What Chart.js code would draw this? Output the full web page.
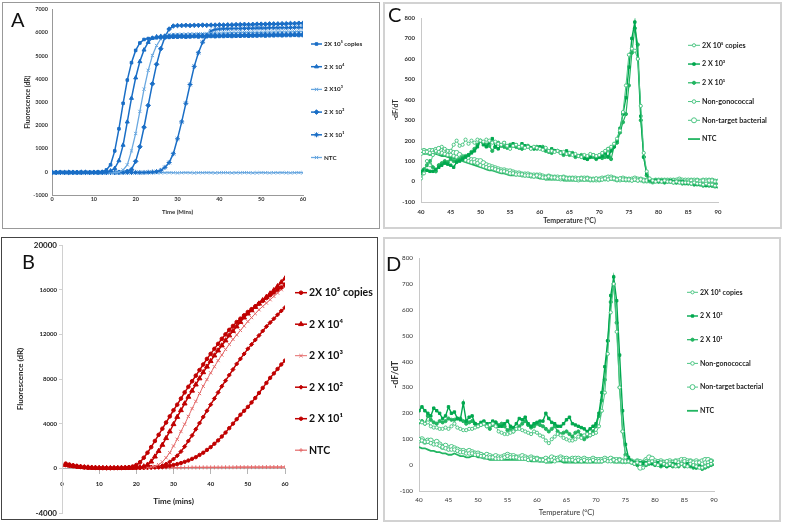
<!DOCTYPE html>
<html>
<head>
<meta charset="utf-8">
<script src="https://cdn.jsdelivr.net/npm/chart.js"></script>
<style>
  body { margin: 0; background: #fff; width: 787px; height: 527px; position: relative; overflow: hidden; font-family: Lato, "Open Sans", sans-serif; }
  canvas { position: absolute; }
  .box { position: absolute; box-sizing: border-box; pointer-events: none; }
  .lab { position: absolute; font-size: 20px; line-height: 20px; color: #111; }
</style>
</head>
<body>

<canvas id="chartA" width="378" height="227" style="left:2px;top:2px"></canvas>
<canvas id="chartC" width="399" height="227" style="left:383px;top:2px"></canvas>
<canvas id="chartB" width="377" height="283" style="left:1px;top:237px"></canvas>
<canvas id="chartD" width="398" height="285" style="left:383px;top:237px"></canvas>

<div class="box" style="left:2px;top:2px;width:378px;height:227px;border:1px solid #999"></div>
<div class="box" style="left:383px;top:2px;width:399px;height:227px;border:2px solid #d2d2d2"></div>
<div class="box" style="left:1px;top:237px;width:377px;height:283px;border:1px solid #444"></div>
<div class="box" style="left:383px;top:237px;width:398px;height:285px;border:2px solid #d2d2d2"></div>

<div class="lab" style="left:11px;top:9px">A</div>
<div class="lab" style="left:22px;top:251px">B</div>
<div class="lab" style="left:388px;top:4px">C</div>
<div class="lab" style="left:386px;top:253px">D</div>

<script>
// ---- panel A : amplification, blue ----
const timeA = [0,1,2,3,4,5,6,7,8,9,10,11,12,13,14,15,16,17,18,19,20,21,22,23,24,25,26,27,28,29,30,
  31,32,33,34,35,36,37,38,39,40,41,42,43,44,45,46,47,48,49,50,51,52,53,54,55,56,57,58,59,60];
const a2e5 = [-30,-30,-25,-30,-30,-25,-30,-30,-25,-30, -25,-20,-10,80,300,900,1850,2950,3950,4700,
  5230,5550,5700,5740,5760,5770,5780,5780,5790,5800, 5800,5810,5800,5810,5820,5810,5820,5820,5830,5820,
  5830,5830,5840,5830,5840,5840,5850,5840,5850,5850, 5860,5850,5860,5860,5870,5860,5870,5870,5880,5870, 5870];
const a2e4 = [-20,-25,-20,-25,-20,-20,-25,-20,-20,-25, -20,-20,-15,-10,40,150,480,1150,2150,3170,
  4050,4750,5250,5580,5760,5820,5840,5850,5850,5860, 5860,5870,5860,5870,5870,5880,5870,5880,5880,5890,
  5880,5890,5890,5900,5890,5900,5900,5910,5900,5910, 5910,5920,5910,5920,5920,5930,5920,5930,5930,5940, 5940];
const a2e3 = [-40,-40,-35,-40,-40,-35,-40,-40,-35,-40, -35,-40,-35,-40,-35,-30,-20,80,300,900,
  1650,2600,3560,4370,5010,5440,5720,5860,5900,5920, 5920,5930,5930,5940,5940,5950,5950,5960,5960,5970,
  5970,5980,5980,5990,5990,6000,6000,6000,6010,6010, 6010,6020,6020,6020,6030,6030,6030,6030,6040,6040, 6040];
const a2e2 = [-25,-30,-25,-30,-25,-30,-25,-30,-25,-30, -25,-30,-25,-30,-25,-30,-20,-10,20,100,
  450,1080,1920,2860,3790,4630,5300,5800,6150,6280, 6300,6300,6310,6300,6310,6310,6320,6310,6320,6320,
  6330,6320,6330,6330,6340,6340,6350,6340,6350,6360, 6360,6360,6370,6370,6370,6380,6380,6390,6390,6400, 6400];
const a2e1 = [-30,-30,-30,-25,-30,-30,-30,-25,-30,-30, -30,-25,-30,-30,-25,-30,-30,-25,-30,-30,
  -25,-30,-30,-20,-10,10,60,190,400,780, 1420,2150,2950,3760,4540,5130,5580,5870,6060,6130,
  6150,6160,6160,6170,6170,6170,6180,6180,6180,6190, 6190,6190,6200,6200,6200,6210,6210,6210,6220,6220, 6220];
const aNTC = [-40,-35,-40,-45,-40,-35,-40,-45,-40,-40, -35,-40,-45,-40,-35,-40,-45,-40,-40,-35,
  -40,-45,-40,-35,-40,-45,-40,-40,-35,-40, -45,-40,-35,-40,-45,-40,-40,-35,-40,-45,
  -40,-35,-40,-45,-40,-40,-35,-40,-45,-40, -35,-40,-45,-40,-40,-35,-40,-45,-40,-35, -40];

// ---- panel B : amplification, red ----
const timeB = [1,2,3,4,5,6,7,8,9,10,11,12,13,14,15,16,17,18,19,20,21,22,23,24,25,26,27,28,29,30,
  31,32,33,34,35,36,37,38,39,40,41,42,43,44,45,46,47,48,49,50,51,52,53,54,55,56,57,58,59,60];
const b2e5 = [420,330,260,200,150,110,80,60,45,35, 30,25,25,30,35,45,60,90,160,300,
  550,950,1400,1900,2450,3000,3550,4100,4650,5200, 5700,6250,6800,7300,7800,8300,8800,9300,9800,10250,
  10700,11150,11600,12000,12400,12750,13100,13400,13700,14000, 14250,14500,14750,15000,15250,15500,15750,16000,16200,16450];
const b2e4 = [300,250,200,160,120,90,70,50,40,30, 25,20,20,25,25,30,35,40,50,70,
  100,170,320,600,1050,1550,2100,2700,3300,3950, 4600,5200,5800,6400,6950,7500,8050,8600,9100,9600,
  10100,10550,11000,11450,11900,12300,12700,13100,13500,13850, 14150,14450,14750,15050,15350,15650,15950,16300,16650,17000];
const b2e3 = [250,200,170,140,110,90,70,55,45,35, 30,25,25,25,30,30,35,40,45,55,
  65,75,90,110,180,330,580,950,1400,2000, 2600,3300,3950,4650,5350,6000,6700,7350,7950,8550,
  9100,9650,10150,10650,11100,11550,11950,12350,12750,13150, 13500,13850,14200,14500,14800,15100,15400,15700,16000,16250];
const b2e2 = [350,280,220,170,130,100,75,55,45,35, 30,25,25,30,30,35,40,45,50,60,
  70,80,90,100,120,160,240,380,580,830, 1130,1500,1950,2450,2950,3500,4050,4600,5150,5700,
  6250,6800,7350,7850,8350,8850,9350,9800,10250,10700, 11100,11500,11900,12300,12700,13050,13400,13750,14100,14400];
const b2e1 = [300,240,190,150,120,90,70,55,45,35, 30,25,25,25,30,30,35,40,45,50,
  55,60,70,80,90,100,130,170,230,300, 380,470,580,700,850,1000,1200,1400,1650,1900,
  2200,2500,2850,3200,3600,4000,4400,4800,5150,5500, 5900,6300,6750,7200,7650,8100,8500,8900,9300,9650];
const bNTC = [260,210,170,135,105,85,70,55,45,40, 35,35,30,30,35,35,40,40,45,45,
  50,50,55,55,60,60,60,65,65,70, 70,70,75,75,80,80,80,85,85,85,
  90,90,90,95,95,95,100,100,100,100, 105,105,105,110,110,110,115,115,115,120];

// ---- panels C and D : melt curves, green ----
const temps = [40,40.5,41,41.5,42,42.5,43,43.5,44,44.5, 45,45.5,46,46.5,47,47.5,48,48.5,49,49.5,
  50,50.5,51,51.5,52,52.5,53,53.5,54,54.5, 55,55.5,56,56.5,57,57.5,58,58.5,59,59.5,
  60,60.5,61,61.5,62,62.5,63,63.5,64,64.5, 65,65.5,66,66.5,67,67.5,68,68.5,69,69.5,
  70,70.5,71,71.5,72,72.5,73,73.5,74,74.5, 75,75.5,76,76.5,77,77.5,78,78.5,79,79.5,
  80,80.5,81,81.5,82,82.5,83,83.5,84,84.5, 85,85.5,86,86.5,87,87.5,88,88.5,89,89.5, 90];

const c2e5 = [15,40,100,80,130,150,145,170,160,150, 150,180,200,175,180,205,185,200,190,205,
  200,195,205,200,190,195,185,180,190,175, 160,175,180,170,175,165,170,160,170,165,
  160,155,165,150,150,145,150,140,145,135, 140,130,135,125,120,130,125,135,130,125,
  130,140,150,160,170,185,210,250,340,470, 620,650,640,600,370,140,50,15,5,0,
  5,0,5,0,0,-5,0,-5,-5,-5, -5,-10,-5,-10,-10,-15,-10,-15,-15,-20, -20];
const c2e3 = [50,55,55,50,50,60,70,80,90,85, 80,70,95,100,110,120,130,140,150,170,
  200,180,170,190,210,170,160,180,190,175, 170,185,180,170,185,175,170,165,165,160,
  170,160,160,150,160,150,150,145,140,150, 140,135,130,125,120,115,110,120,130,115,
  120,125,140,120,150,170,200,260,330,410, 560,700,780,600,320,120,40,10,5,5,
  0,5,0,0,5,0,-5,-5,0,-10, -5,-10,-10,-15,-10,-15,-20,-15,-20,-25, -25];
const c2e1 = [40,60,80,100,70,50,80,90,100,95, 110,100,100,110,120,125,130,145,160,180,
  200,190,180,175,150,170,190,175,170,165, 180,175,170,165,160,170,175,165,160,170,
  165,170,150,145,140,150,150,140,130,135, 130,140,120,125,130,115,110,120,120,110,
  120,115,120,160,110,170,190,240,290,330, 470,630,750,670,300,120,30,5,0,5,
  0,5,-5,0,0,-5,-5,0,-10,-5, -10,-10,-15,-10,-15,-20,-15,-20,-20,-15, -20];
const cNonGono = [150,145,145,140,140,145,140,140,135,130, 130,125,120,115,110,105,100,95,95,90,
  80,75,70,65,65,60,55,50,50,45, 40,40,35,35,35,30,30,30,25,30,
  25,20,20,25,20,20,15,20,20,15, 15,15,10,15,15,10,15,10,10,15,
  10,10,15,10,15,15,10,15,10,10, 10,5,10,5,10,5,5,5,0,5,
  5,0,5,5,0,5,0,5,0,0, 0,5,0,5,0,5,0,5,5,0, 0];
const cNonTarget = [140,150,145,150,150,155,160,150,150,145, 145,140,140,130,120,115,110,105,105,100,
  100,90,80,75,70,65,60,55,55,50, 50,45,40,40,35,35,35,30,30,30,
  30,25,20,25,20,20,20,15,20,15, 15,15,15,10,15,15,15,10,10,10,
  10,15,15,20,20,15,10,10,15,10, 10,10,15,10,10,5,5,5,0,5,
  5,5,5,5,5,5,5,10,5,5, 5,5,5,5,0,5,5,5,5,0, 0];
const cNTC = [135,135,135,130,135,135,130,125,125,120, 120,115,110,105,100,95,90,85,80,75,
  70,65,60,55,55,50,45,40,40,35, 30,30,30,30,25,25,25,20,20,20,
  15,15,10,10,10,10,10,10,5,5, 5,5,5,5,5,5,5,5,5,10,
  10,10,10,10,10,10,5,5,5,5, 5,5,5,5,5,5,5,5,0,0,
  0,0,0,0,0,0,0,-5,-5,-5, -5,-10,-10,-10,-10,-15,-15,-15,-15,-20, -20];

const d2e5 = [170,165,160,165,150,145,145,140,140,145, 140,150,160,145,140,135,135,140,140,145,
  150,155,160,150,155,160,150,130,125,120, 120,125,130,140,140,135,130,125,120,130,
  125,115,110,95,85,100,110,120,115,105, 100,95,95,100,110,105,115,120,115,120,
  125,150,210,280,430,590,700,515,300,130, 30,15,10,5,10,5,-10,5,10,15,
  5,0,10,5,0,5,0,-5,0,5, 0,-5,5,0,-5,-10,-10,-5,0,5, 10];
const d2e3 = [210,225,210,200,190,220,210,200,180,190, 225,200,205,180,175,240,170,185,190,160,
  155,165,170,160,160,170,165,150,150,160, 170,150,145,160,180,175,185,160,150,160,
  165,170,170,200,180,165,160,150,150,160, 175,185,160,155,150,145,140,130,140,150,
  160,200,280,380,480,655,727,635,425,210, 80,30,15,10,5,10,5,10,10,5,
  5,10,0,5,-5,0,5,0,0,5, 0,5,0,-5,-10,-5,-10,-5,0,5, 10];
const d2e1 = [165,170,160,190,175,165,160,170,165,170, 180,175,175,180,180,170,160,165,170,160,
  150,155,160,150,140,155,165,155,160,150, 135,140,130,140,150,160,170,155,145,150,
  160,155,150,140,130,140,150,130,120,125, 130,120,110,125,130,115,100,110,115,130,
  150,190,250,330,480,630,700,550,300,130, 40,20,10,5,0,5,10,0,5,10,
  0,5,-5,0,-5,0,-5,0,-5,5, -5,0,-5,-10,-10,-5,-15,-10,-5,0, 5];
const dNonGono = [100,95,90,90,85,80,80,75,70,65, 60,60,60,55,50,50,45,45,45,40,
  40,35,35,30,30,30,25,25,25,30, 35,30,30,30,25,25,25,20,25,20,
  25,20,20,15,20,20,15,20,25,20, 20,20,20,15,20,15,20,15,15,20,
  15,15,15,20,15,15,20,15,20,15, 15,20,15,10,15,15,10,15,15,10,
  10,15,10,10,15,10,10,15,10,10, 15,10,15,10,10,10,5,10,10,15, 10];
const dNonTarget = [95,100,90,95,95,85,90,80,70,75, 65,70,65,60,55,55,50,55,50,45,
  45,40,35,40,35,30,35,30,30,35, 40,35,35,30,30,35,30,25,30,25,
  25,20,20,25,20,30,25,25,30,25, 25,20,25,25,25,20,25,20,20,25,
  20,20,20,25,20,25,20,20,20,15, 15,20,15,10,15,-10,10,20,30,25,
  15,10,15,10,10,15,10,15,15,20, 20,15,15,10,15,10,15,20,20,15, 10];
const dNTC = [70,65,65,60,55,55,50,50,45,45, 40,40,45,40,35,35,30,30,35,35,
  30,30,25,25,20,20,20,20,20,20, 20,20,20,20,20,20,20,20,15,15,
  15,15,15,10,10,10,15,15,15,10, 10,10,10,10,10,10,10,10,10,10,
  10,10,10,15,15,15,10,10,10,10, 10,10,10,10,10,5,5,5,5,5,
  5,5,5,0,0,0,0,0,0,0, 0,0,0,-5,-5,-5,-5,-5,0,5, 5];

const FONT = "Lato, 'Open Sans', sans-serif";

function pts(xs, ys) {
  return ys.map(function (v, i) { return { x: xs[i], y: v }; });
}

function series(label, xs, ys, color, width, style, radius, fillColor) {
  return {
    label: label,
    data: pts(xs, ys),
    borderColor: color,
    borderWidth: width,
    pointStyle: style,
    pointRadius: radius,
    pointHoverRadius: radius,
    pointBackgroundColor: fillColor || color,
    pointBorderColor: color,
    pointBorderWidth: 1,
    tension: 0,
    fill: false
  };
}

// legend drawn Excel style: short line with the marker in the middle
const sideLegend = {
  id: 'sideLegend',
  afterDraw: function (chart, args, opts) {
    const ctx = chart.ctx;
    ctx.save();
    chart.data.datasets.forEach(function (ds, i) {
      const x = opts.left, y = opts.top + i * opts.gap;
      ctx.strokeStyle = ds.borderColor;
      ctx.lineWidth = ds.borderWidth;
      ctx.beginPath();
      ctx.moveTo(x, y);
      ctx.lineTo(x + opts.len, y);
      ctx.stroke();
      if (ds.pointRadius > 0) {
        ctx.fillStyle = ds.pointBackgroundColor;
        ctx.strokeStyle = ds.pointBorderColor;
        ctx.lineWidth = 1;
        Chart.helpers.drawPoint(ctx, { pointStyle: ds.pointStyle, radius: ds.pointRadius, rotation: 0, borderWidth: 1 }, x + opts.len / 2, y);
      }
      ctx.fillStyle = opts.color;
      ctx.font = opts.font;
      ctx.textBaseline = 'middle';
      ctx.textAlign = 'left';
      ctx.fillText(ds.label, x + opts.len + 2, y);
    });
    ctx.restore();
  }
};

// plain numbers on the ticks, no thousands separator
function plain(v) { return String(v); }

function axis(o) {
  return {
    type: 'linear',
    position: o.position,
    min: o.min,
    max: o.max,
    ticks: { stepSize: o.step, color: o.color, padding: o.tickPad, font: o.tickFont, maxRotation: 0, autoSkip: false, callback: plain },
    grid: { display: o.tickLen > 0, drawOnChartArea: false, drawTicks: o.tickLen > 0, tickLength: o.tickLen, color: o.line },
    border: { display: true, color: o.line, width: 1 },
    title: { display: true, text: o.title, color: o.color, font: o.titleFont, padding: o.titlePad },
    afterFit: o.fit
  };
}

function makeChart(id, datasets, padding, xAxis, yAxis, legend) {
  return new Chart(document.getElementById(id), {
    type: 'line',
    data: { datasets: datasets },
    options: {
      responsive: false,
      animation: false,
      devicePixelRatio: 1,
      layout: { padding: padding },
      plugins: { legend: { display: false }, tooltip: { enabled: false }, sideLegend: legend },
      scales: { x: xAxis, y: yAxis }
    },
    plugins: [sideLegend]
  });
}

// ---------- A ----------
const blue = '#1a6ec6', blueLight = '#6aa8e0';
makeChart('chartA', [
  series('2X 10\u2075 copies', timeA, a2e5, blue, 1.5, 'rect', 1.8),
  series('2 X 10\u2074', timeA, a2e4, blue, 1.5, 'triangle', 2.3),
  series('2 X10\u00b3', timeA, a2e3, blueLight, 1.3, 'crossRot', 2.3),
  series('2 X 10\u00b2', timeA, a2e2, blue, 1.5, 'rectRot', 2.3),
  series('2 X 10\u00b9', timeA, a2e1, blue, 1.5, 'star', 2.5),
  series('NTC', timeA, aNTC, blueLight, 1.3, 'crossRot', 2.3)
], { left: 0, top: 5, right: 77, bottom: 0 },
  axis({ position: 'bottom', min: 0, max: 60, step: 10, color: '#333', tickPad: 1, tickLen: 0, line: '#999',
    tickFont: { size: 5.5, weight: 'bold', family: FONT }, title: 'Time (Mins)',
    titleFont: { size: 6, weight: 'bold', family: FONT }, titlePad: { top: 0, bottom: 13.4 },
    fit: function (s) { s.height = 34; } }),
  axis({ position: 'left', min: -1000, max: 7000, step: 1000, color: '#333', tickPad: 4, tickLen: 0, line: '#999',
    tickFont: { size: 5.5, weight: 'bold', family: FONT }, title: 'Fluorescence (dR)',
    titleFont: { size: 6.8, weight: 'bold', family: FONT }, titlePad: { top: 21.9, bottom: 0 },
    fit: function (s) { s.width = 50; } }),
  { left: 309, top: 42, gap: 22.7, len: 11, color: '#222', font: "bold 6.3px " + FONT }
);

// ---------- B ----------
const red = '#c00000', redLight = '#e46a6a';
makeChart('chartB', [
  series('2X 10\u2075 copies', timeB, b2e5, red, 1.5, 'circle', 1.8),
  series('2 X 10\u2074', timeB, b2e4, red, 1.5, 'triangle', 2.8),
  series('2 X 10\u00b3', timeB, b2e3, redLight, 1, 'crossRot', 2.3),
  series('2 X 10\u00b2', timeB, b2e2, red, 1.5, 'rectRot', 2),
  series('2 X 10\u00b9', timeB, b2e1, red, 1.5, 'circle', 1.7),
  series('NTC', timeB, bNTC, redLight, 1.2, 'cross', 2)
], { left: 0, top: 8, right: 93, bottom: 7 },
  axis({ position: { y: 0 }, min: 0, max: 60, step: 10, color: '#222', tickPad: 7, tickLen: 5, line: '#b5b5b5',
    tickFont: { size: 6, weight: 'bold', family: FONT }, title: 'Time (mins)',
    titleFont: { size: 8, weight: 'bold', family: FONT }, titlePad: { top: 0, bottom: 2.2 },
    fit: function (s) { s.height = 40; } }),
  axis({ position: 'left', min: -4000, max: 20000, step: 4000, color: '#222', tickPad: 2, tickLen: 3, line: '#d0d0d0',
    tickFont: function (c) {
      const big = c.tick && (c.tick.value === 20000 || c.tick.value === -4000);
      return { size: big ? 8 : 6, weight: 'bold', family: FONT };
    },
    title: 'Fluorescence (dR)', titleFont: { size: 8, weight: 'bold', family: FONT }, titlePad: { top: 14.2, bottom: 0 },
    fit: function (s) { s.width = 61; } }),
  { left: 294, top: 55.7, gap: 31.5, len: 12, color: '#111', font: "bold 10.5px " + FONT }
);

// ---------- C ----------
const green = '#00a84f', greenMid = '#22b561', greenLight = '#4cc583';
makeChart('chartC', [
  series('2X 10\u2075 copies', temps, c2e5, greenLight, 1, 'circle', 1.6, '#fff'),
  series('2 X 10\u00b3', temps, c2e3, green, 1.4, 'rect', 1.7),
  series('2 X 10\u00b9', temps, c2e1, greenMid, 1.2, 'circle', 1.6),
  series('Non-gonococcal', temps, cNonGono, greenLight, 1, 'circle', 1.8, '#fff'),
  series('Non-target bacterial', temps, cNonTarget, greenLight, 1, 'circle', 2.5, '#fff'),
  series('NTC', temps, cNTC, greenMid, 1.8, 'circle', 0)
], { left: 0, top: 16, right: 64, bottom: 0 },
  axis({ position: 'bottom', min: 40, max: 90, step: 5, color: '#333', tickPad: 6, tickLen: 0, line: '#c8c8c8',
    tickFont: { size: 6, weight: 'bold', family: FONT }, title: 'Temperature (\u00b0C)',
    titleFont: { size: 7, weight: 'bold', family: FONT }, titlePad: { top: 0, bottom: 3.8 },
    fit: function (s) { s.height = 27; } }),
  axis({ position: 'left', min: -100, max: 800, step: 100, color: '#333', tickPad: 6, tickLen: 0, line: '#c8c8c8',
    tickFont: { size: 6, weight: 'bold', family: FONT }, title: '-dF/dT',
    titleFont: { size: 7, weight: 'bold', family: FONT }, titlePad: { top: 8.8, bottom: 0 },
    fit: function (s) { s.width = 38; } }),
  { left: 305, top: 43.3, gap: 18.75, len: 12, color: '#222', font: "bold 7.2px " + FONT }
);

// ---------- D ----------
makeChart('chartD', [
  series('2X 10\u2075 copies', temps, d2e5, greenLight, 1, 'circle', 1.6, '#fff'),
  series('2 X 10\u00b3', temps, d2e3, green, 1.4, 'rect', 1.7),
  series('2 X 10\u00b9', temps, d2e1, greenMid, 1.2, 'circle', 1.6),
  series('Non-gonococcal', temps, dNonGono, greenLight, 1, 'circle', 1.8, '#fff'),
  series('Non-target bacterial', temps, dNonTarget, greenLight, 1, 'circle', 2.5, '#fff'),
  series('NTC', temps, dNTC, greenMid, 1.8, 'circle', 0)
], { left: 0, top: 21, right: 67, bottom: 0 },
  axis({ position: 'bottom', min: 40, max: 90, step: 5, color: '#333', tickPad: 5, tickLen: 0, line: '#c8c8c8',
    tickFont: { size: 6.3, family: FONT }, title: 'Temperature (\u00b0C)',
    titleFont: { size: 7.5, family: FONT }, titlePad: { top: 0, bottom: 4.5 },
    fit: function (s) { s.height = 31; } }),
  axis({ position: 'left', min: -100, max: 800, step: 100, color: '#333', tickPad: 6, tickLen: 0, line: '#c8c8c8',
    tickFont: { size: 6.3, family: FONT }, title: '-dF/dT',
    titleFont: { size: 9, weight: 'bold', family: FONT }, titlePad: { top: 6.6, bottom: 0 },
    fit: function (s) { s.width = 36; } }),
  { left: 304, top: 55.3, gap: 23.7, len: 11, color: '#222', font: "bold 7px " + FONT }
);
</script>
</body>
</html>
